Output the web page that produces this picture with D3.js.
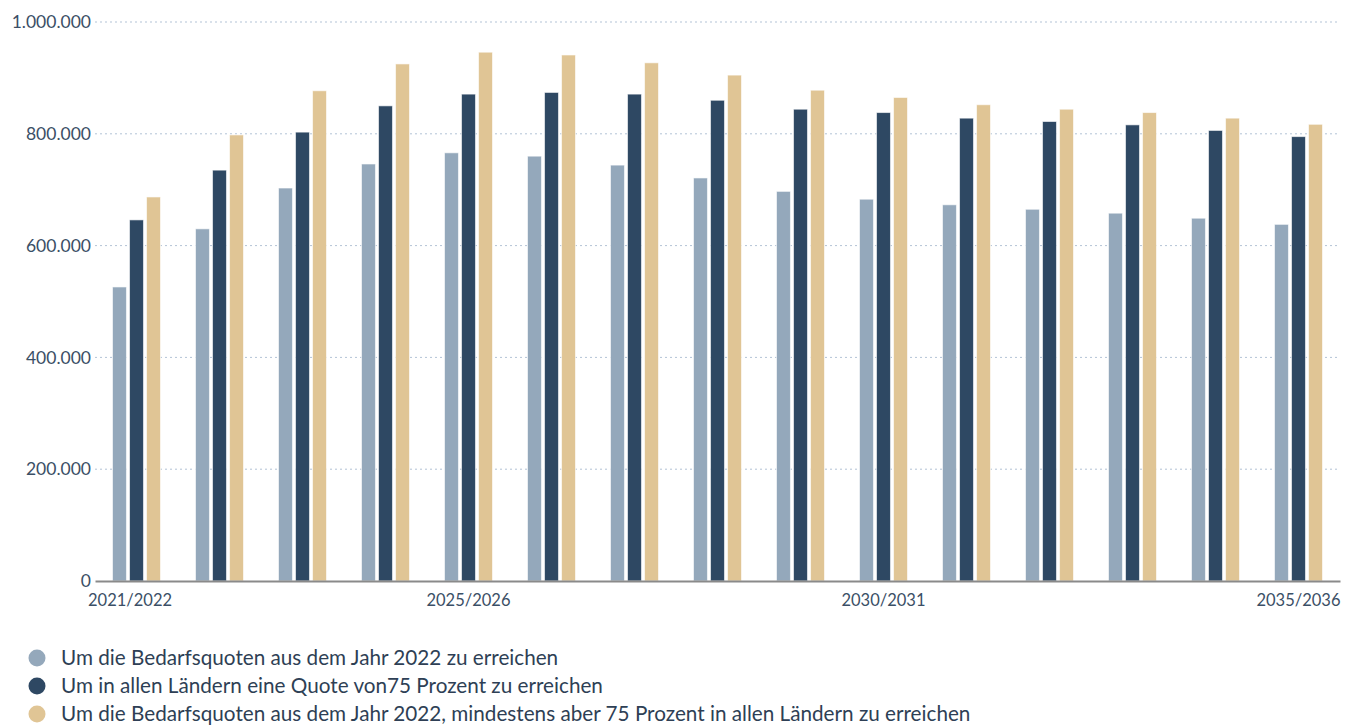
<!DOCTYPE html>
<html>
<head>
<meta charset="utf-8">
<script src="https://cdn.jsdelivr.net/npm/d3@7"></script>
<style>
  html, body { margin: 0; padding: 0; background: #fff; }
  svg { display: block; font-family: "Lato", "Noto Sans", sans-serif; }
</style>
</head>
<body>
<svg id="chart" width="1357" height="726"></svg>
<script>
const categories = ["2021/2022","2022/2023","2023/2024","2024/2025","2025/2026","2026/2027","2027/2028","2028/2029","2029/2030","2030/2031","2031/2032","2032/2033","2033/2034","2034/2035","2035/2036"];
const seriesNames = [
  "Um die Bedarfsquoten aus dem Jahr 2022 zu erreichen",
  "Um in allen Ländern eine Quote von75 Prozent zu erreichen",
  "Um die Bedarfsquoten aus dem Jahr 2022, mindestens aber 75 Prozent in allen Ländern zu erreichen"
];
const bedarf2022 = [526000, 630000, 703000, 746000, 766000, 760000, 744000, 721000, 697000, 683000, 673000, 665000, 658000, 649000, 638000];
const quote75 = [646000, 735000, 803000, 850000, 871000, 874000, 871000, 860000, 844000, 838000, 828000, 822000, 816000, 806000, 795000];
const mindestens75 = [687000, 798000, 877000, 925000, 946000, 941000, 927000, 905000, 878000, 865000, 852000, 844000, 838000, 828000, 817000];
const yTicks = [0, 200000, 400000, 600000, 800000, 1000000];
const xTickLabels = ["2021/2022", "2025/2026", "2030/2031", "2035/2036"];
const colors = ["#94a8bb", "#2e4863", "#e0c595"];

(function () {
const seriesValues = [bedarf2022, quote75, mindestens75];
const svg = d3.select("#chart");
const mLeft = 95, mRight = 1340, mTop = 22, mBottom = 581;

const x = d3.scaleBand().domain(categories).range([mLeft, mRight]).paddingInner(0).paddingOuter(0);
const groupW = 48;
const xs = d3.scaleBand().domain(d3.range(3)).range([0, groupW]).paddingInner(0.18).paddingOuter(0);
const y = d3.scaleLinear().domain([0, 1000000]).range([mBottom, mTop]);
const fmt = v => d3.format(",")(v).replace(/,/g, ".");

// grid
svg.append("g")
  .selectAll("line").data(yTicks.filter(d => d > 0)).join("line")
  .attr("x1", mLeft).attr("x2", mRight)
  .attr("y1", d => y(d)).attr("y2", d => y(d))
  .attr("stroke", "#b3c3d6").attr("stroke-width", 1).attr("stroke-dasharray", "2,3");

// y axis labels
const yAxis = d3.axisLeft(y).tickValues(yTicks).tickFormat(fmt).tickSize(0).tickPadding(0);
const gy = svg.append("g").attr("transform", `translate(${mLeft - 4},0)`).call(yAxis);
gy.select(".domain").remove();
gy.selectAll("text").attr("fill", "#3b4f66").attr("font-size", 17.5).attr("font-family", "Lato, 'Noto Sans', sans-serif");

// bars
const groups = svg.append("g").selectAll("g").data(categories).join("g")
  .attr("transform", d => `translate(${x(d) + (x.bandwidth() - groupW) / 2},0)`);
groups.selectAll("rect")
  .data((c, i) => seriesValues.map((s, k) => ({ k, v: s[i] })))
  .join("rect")
  .attr("x", d => xs(d.k))
  .attr("width", xs.bandwidth())
  .attr("y", d => y(d.v))
  .attr("height", d => y(0) - y(d.v))
  .attr("fill", d => colors[d.k])
  .attr("stroke", "#ffffff").attr("stroke-opacity", 0.6).attr("stroke-width", 1);

// x axis
const xAxis = d3.axisBottom(x).tickValues(xTickLabels).tickSize(0).tickPadding(13);
const gx = svg.append("g").attr("transform", `translate(0,${mBottom})`).call(xAxis);
gx.select(".domain").attr("stroke", "#8a8a8a").attr("stroke-width", 2);
gx.selectAll("text").attr("fill", "#3b4f66").attr("font-size", 16.5).attr("font-family", "Lato, 'Noto Sans', sans-serif");
// first label is kept inside the chart's left edge
gx.selectAll(".tick").filter(d => d === categories[0]).select("text")
  .attr("text-anchor", "start").attr("x", -(x.bandwidth() / 2) - 7);

// legend
const lg = svg.append("g").selectAll("g").data(seriesNames).join("g")
  .attr("transform", (d, i) => `translate(37,${658 + i * 28})`);
lg.append("circle").attr("r", 8.5).attr("fill", (d, i) => colors[i]);
lg.append("text").attr("x", 24).attr("dy", "0.35em").text(d => d)
  .attr("fill", "#2e3f55").attr("font-size", 20.7);
})();
</script>
</body>
</html>
